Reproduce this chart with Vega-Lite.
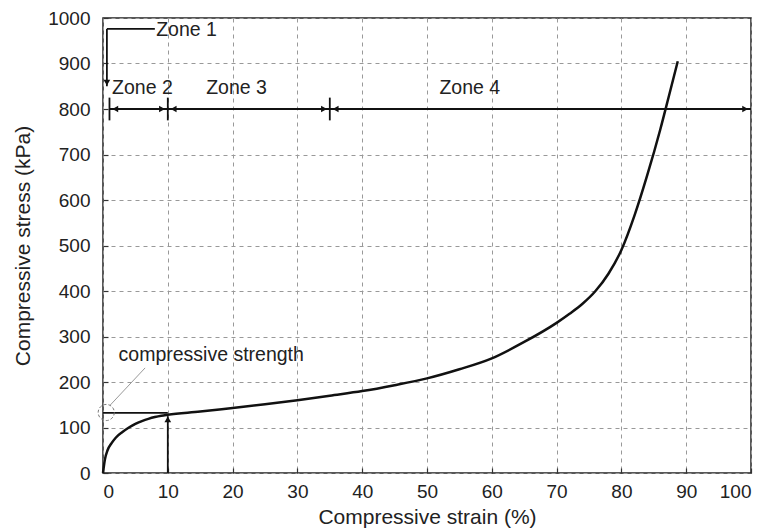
{
  "$schema": "https://vega.github.io/schema/vega-lite/v6.json",
  "autosize": {"type": "none"},
  "padding": {"left": 103, "top": 18, "right": 18, "bottom": 56},
  "width": 648,
  "height": 455,
  "background": "white",
  "config": {
    "font": "Liberation Sans",
    "view": {"stroke": "#222", "strokeWidth": 1.5},
    "axis": {
      "labelFont": "Liberation Sans",
      "titleFont": "Liberation Sans",
      "labelFontSize": 19,
      "titleFontSize": 21,
      "labelColor": "#222",
      "titleColor": "#222",
      "titleFontWeight": "normal",
      "domain": false,
      "gridColor": "#999",
      "gridDash": [4, 4],
      "gridWidth": 1,
      "tickColor": "#333",
      "tickSize": -5,
      "tickWidth": 1.2
    }
  },
  "datasets": {
    "curve": [
      {"strain": 0, "stress": 0},
      {"strain": 0.3, "stress": 30},
      {"strain": 0.7, "stress": 50},
      {"strain": 1.3, "stress": 65},
      {"strain": 2, "stress": 78},
      {"strain": 3, "stress": 90},
      {"strain": 4, "stress": 100},
      {"strain": 5, "stress": 108},
      {"strain": 6, "stress": 114},
      {"strain": 7, "stress": 119},
      {"strain": 8, "stress": 123},
      {"strain": 9, "stress": 126},
      {"strain": 10, "stress": 128},
      {"strain": 15, "stress": 135},
      {"strain": 20, "stress": 143},
      {"strain": 25, "stress": 151},
      {"strain": 30, "stress": 160},
      {"strain": 35, "stress": 170},
      {"strain": 40, "stress": 180},
      {"strain": 45, "stress": 193},
      {"strain": 50, "stress": 208},
      {"strain": 55, "stress": 228},
      {"strain": 60, "stress": 252},
      {"strain": 65, "stress": 288},
      {"strain": 70, "stress": 330},
      {"strain": 72, "stress": 350},
      {"strain": 74, "stress": 372},
      {"strain": 76, "stress": 400},
      {"strain": 78, "stress": 438},
      {"strain": 80, "stress": 490},
      {"strain": 82, "stress": 565},
      {"strain": 84, "stress": 655},
      {"strain": 86, "stress": 755},
      {"strain": 87.5, "stress": 838},
      {"strain": 88.7, "stress": 905}
    ],
    "segs": [
      {"x": 0.6, "x2": 8, "y": 976, "y2": 976},
      {"x": 0.6, "x2": 0.6, "y": 976, "y2": 850},
      {"x": 1, "x2": 10, "y": 800, "y2": 800},
      {"x": 10, "x2": 35, "y": 800, "y2": 800},
      {"x": 35, "x2": 100, "y": 800, "y2": 800},
      {"x": 1, "x2": 1, "y": 775, "y2": 825},
      {"x": 10, "x2": 10, "y": 775, "y2": 825},
      {"x": 35, "x2": 35, "y": 775, "y2": 825},
      {"x": 0, "x2": 10, "y": 132, "y2": 132},
      {"x": 10, "x2": 10, "y": 0, "y2": 125}
    ],
    "leader": [
      {"x": 1.1, "x2": 6.5, "y": 149, "y2": 231}
    ],
    "arrows": [
      {"x": 0.6, "y": 858, "dir": "down"},
      {"x": 1.9, "y": 800, "dir": "left"},
      {"x": 9.1, "y": 800, "dir": "right"},
      {"x": 10.9, "y": 800, "dir": "left"},
      {"x": 34.1, "y": 800, "dir": "right"},
      {"x": 35.9, "y": 800, "dir": "left"},
      {"x": 99.1, "y": 800, "dir": "right"},
      {"x": 10, "y": 118, "dir": "up"}
    ],
    "ellipse": [
      {"x": 0.5, "y": 133}
    ],
    "labelsLeft": [
      {"x": 8.2, "y": 974, "text": "Zone 1"},
      {"x": 1.4, "y": 846, "text": "Zone 2"},
      {"x": 2.4, "y": 259, "text": "compressive strength"}
    ],
    "labelsCenter": [
      {"x": 20.6, "y": 846, "text": "Zone 3"},
      {"x": 56.6, "y": 846, "text": "Zone 4"}
    ]
  },
  "layer": [
    {
      "data": {"name": "curve"},
      "mark": {"type": "line", "color": "#111", "strokeWidth": 2.5, "interpolate": "monotone"},
      "encoding": {
        "x": {
          "field": "strain", "type": "quantitative",
          "scale": {"domain": [0, 100], "nice": false},
          "axis": {"values": [0, 10, 20, 30, 40, 50, 60, 70, 80, 90, 100], "format": "d", "title": "Compressive strain (%)", "labelPadding": 14, "titlePadding": 5}
        },
        "y": {
          "field": "stress", "type": "quantitative",
          "scale": {"domain": [0, 1000], "nice": false},
          "axis": {"values": [0, 100, 200, 300, 400, 500, 600, 700, 800, 900, 1000], "format": "d", "title": "Compressive stress (kPa)", "labelPadding": 18, "titlePadding": 14}
        }
      }
    },
    {
      "data": {"name": "segs"},
      "mark": {"type": "rule", "color": "#111", "strokeWidth": 1.8},
      "encoding": {
        "x": {"field": "x", "type": "quantitative"},
        "x2": {"field": "x2"},
        "y": {"field": "y", "type": "quantitative"},
        "y2": {"field": "y2"}
      }
    },
    {
      "data": {"name": "leader"},
      "mark": {"type": "rule", "color": "#999", "strokeWidth": 1},
      "encoding": {
        "x": {"field": "x", "type": "quantitative"},
        "x2": {"field": "x2"},
        "y": {"field": "y", "type": "quantitative"},
        "y2": {"field": "y2"}
      }
    },
    {
      "data": {"name": "arrows"},
      "mark": {"type": "point", "filled": true, "color": "#111", "size": 45, "opacity": 1},
      "encoding": {
        "x": {"field": "x", "type": "quantitative"},
        "y": {"field": "y", "type": "quantitative"},
        "shape": {
          "field": "dir", "type": "nominal",
          "scale": {"domain": ["left", "right", "up", "down"], "range": ["triangle-left", "triangle-right", "triangle-up", "triangle-down"]},
          "legend": null
        }
      }
    },
    {
      "data": {"name": "ellipse"},
      "mark": {"type": "point", "shape": "circle", "filled": false, "color": "#777", "size": 260, "strokeWidth": 1, "strokeDash": [3, 2], "opacity": 1},
      "encoding": {
        "x": {"field": "x", "type": "quantitative"},
        "y": {"field": "y", "type": "quantitative"}
      }
    },
    {
      "data": {"name": "labelsLeft"},
      "mark": {"type": "text", "fontSize": 19.5, "color": "#222", "baseline": "middle", "align": "left"},
      "encoding": {
        "x": {"field": "x", "type": "quantitative"},
        "y": {"field": "y", "type": "quantitative"},
        "text": {"field": "text"}
      }
    },
    {
      "data": {"name": "labelsCenter"},
      "mark": {"type": "text", "fontSize": 19.5, "color": "#222", "baseline": "middle", "align": "center"},
      "encoding": {
        "x": {"field": "x", "type": "quantitative"},
        "y": {"field": "y", "type": "quantitative"},
        "text": {"field": "text"}
      }
    }
  ]
}
